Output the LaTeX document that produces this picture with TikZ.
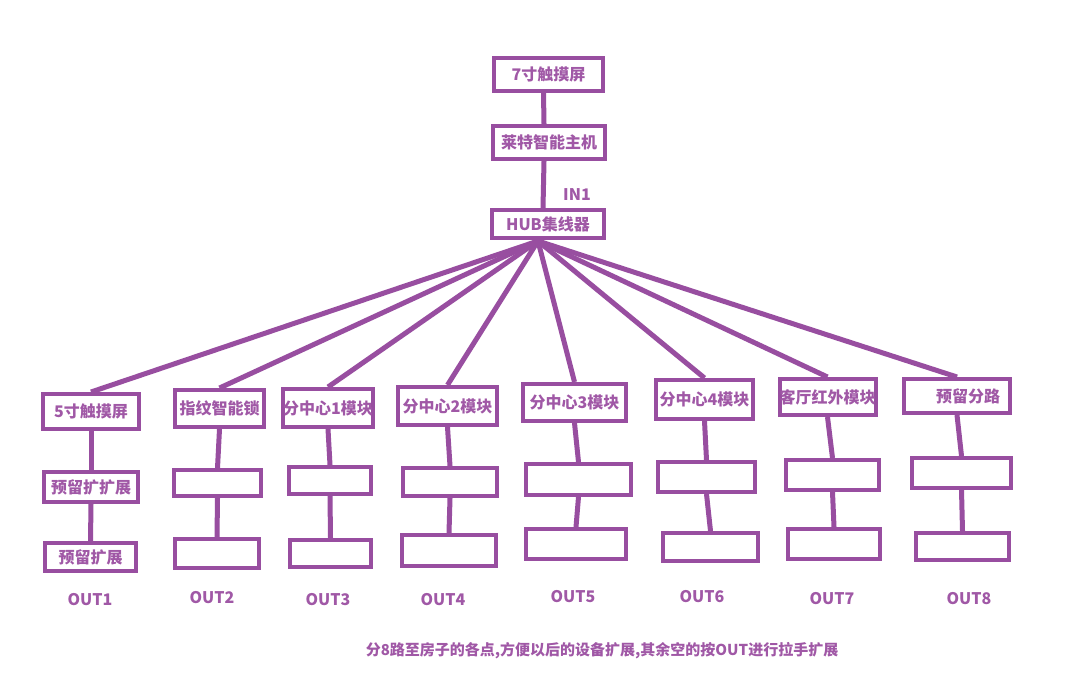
\documentclass[tikz,border=0pt]{standalone}
\usepackage{fontspec}
\setmainfont{Noto Sans CJK SC}

\definecolor{hubpurple}{RGB}{152,78,160}
\definecolor{textpurple}{RGB}{160,88,166}

\tikzset{
    box/.style={draw=hubpurple, line width=4pt, fill=white, inner sep=0pt,
        text=textpurple, font=\fontsize{16}{18}\selectfont\bfseries},
    wire/.style={draw=hubpurple, line width=5pt},
    tag/.style={text=textpurple, font=\fontsize{16}{18}\selectfont\bfseries},
}

\begin{document}
\begin{tikzpicture}[x=1pt, y=-1pt]
    \useasboundingbox[fill=white] (0,0) rectangle (1089,696);

    % Draw nodes
    \node[box, minimum width=109pt, minimum height=33pt] (touch) at (548.5,74.5) {7寸触摸屏};
    \node[box, minimum width=112pt, minimum height=33pt] (host) at (549,142.5) {莱特智能主机};
    \node[box, minimum width=112pt, minimum height=28pt] (hub) at (548,224) {HUB集线器};

    \node[box, minimum width=96pt, minimum height=35pt] (a1) at (91,411.5) {5寸触摸屏};
    \node[box, minimum width=89pt, minimum height=37pt] (a2) at (219.5,408.5) {指纹智能锁};
    \node[box, minimum width=90pt, minimum height=38pt] (a3) at (328,408) {分中心1模块};
    \node[box, minimum width=99pt, minimum height=38pt] (a4) at (447.5,406) {分中心2模块};
    \node[box, minimum width=103pt, minimum height=37pt] (a5) at (574.5,402.5) {分中心3模块};
    \node[box, minimum width=97pt, minimum height=39pt] (a6) at (704.5,399.5) {分中心4模块};
    \node[box, minimum width=93pt, minimum height=36pt] (a7) at (827.5,397) {客厅红外模块};
    \node[box, minimum width=106pt, minimum height=34pt] (a8) at (957,396) {\hspace*{22pt}预留分路};

    \node[box, minimum width=94pt, minimum height=30pt] (b1) at (91,487) {预留扩扩展};
    \node[box, minimum width=87pt, minimum height=26pt] (b2) at (217.5,483) {};
    \node[box, minimum width=82pt, minimum height=27pt] (b3) at (330,480.5) {};
    \node[box, minimum width=94pt, minimum height=28pt] (b4) at (450,482) {};
    \node[box, minimum width=105pt, minimum height=31pt] (b5) at (578.5,479.5) {};
    \node[box, minimum width=97pt, minimum height=30pt] (b6) at (706.5,477) {};
    \node[box, minimum width=93pt, minimum height=30pt] (b7) at (832.5,475) {};
    \node[box, minimum width=99pt, minimum height=30pt] (b8) at (961.5,473) {};

    \node[box, minimum width=91pt, minimum height=28pt] (c1) at (90.5,557) {预留扩展};
    \node[box, minimum width=84pt, minimum height=29pt] (c2) at (217,553.5) {};
    \node[box, minimum width=81pt, minimum height=27pt] (c3) at (330.5,553.5) {};
    \node[box, minimum width=94pt, minimum height=31pt] (c4) at (449,550.5) {};
    \node[box, minimum width=100pt, minimum height=30pt] (c5) at (576,544) {};
    \node[box, minimum width=95pt, minimum height=28pt] (c6) at (710.5,547) {};
    \node[box, minimum width=92pt, minimum height=30pt] (c7) at (834,544) {};
    \node[box, minimum width=93pt, minimum height=27pt] (c8) at (962.5,546.5) {};

    % Draw connections
    \draw[wire] ([xshift=-5pt]touch.south) -- ([xshift=-5pt]host.north);
    \draw[wire] ([xshift=-5pt]host.south) -- ([xshift=-5pt]hub.north);

    \coordinate (fan) at ([xshift=-10pt, yshift=-1pt]hub.south);
    \draw[wire] (fan) -- (a1.north);
    \draw[wire] (fan) -- (a2.north);
    \draw[wire] (fan) -- (a3.north);
    \draw[wire] (fan) -- (a4.north);
    \draw[wire] (fan) -- (a5.north);
    \draw[wire] (fan) -- (a6.north);
    \draw[wire] (fan) -- (a7.north);
    \draw[wire] (fan) -- (a8.north);

    \draw[wire] (a1.south) -- (b1.north);
    \draw[wire] (a2.south) -- (b2.north);
    \draw[wire] (a3.south) -- (b3.north);
    \draw[wire] (a4.south) -- (b4.north);
    \draw[wire] (a5.south) -- (b5.north);
    \draw[wire] (a6.south) -- (b6.north);
    \draw[wire] (a7.south) -- (b7.north);
    \draw[wire] (a8.south) -- (b8.north);

    \draw[wire] (b1.south) -- (c1.north);
    \draw[wire] (b2.south) -- (c2.north);
    \draw[wire] (b3.south) -- (c3.north);
    \draw[wire] (b4.south) -- (c4.north);
    \draw[wire] (b5.south) -- (c5.north);
    \draw[wire] (b6.south) -- (c6.north);
    \draw[wire] (b7.south) -- (c7.north);
    \draw[wire] (b8.south) -- (c8.north);

    % Labels
    \node[tag] (in1) at (577,195) {IN1};
    \node[tag] (out1) at (90,600) {OUT1};
    \node[tag] (out2) at (212,598) {OUT2};
    \node[tag] (out3) at (328,600) {OUT3};
    \node[tag] (out4) at (443,600) {OUT4};
    \node[tag] (out5) at (573,597) {OUT5};
    \node[tag] (out6) at (702,597) {OUT6};
    \node[tag] (out7) at (832,599) {OUT7};
    \node[tag] (out8) at (969,599) {OUT8};
    \node[tag, font=\fontsize{15}{17}\selectfont\bfseries] (note) at (602,651)
        {分8路至房子的各点,方便以后的设备扩展,其余空的按OUT进行拉手扩展};
\end{tikzpicture}
\end{document}
